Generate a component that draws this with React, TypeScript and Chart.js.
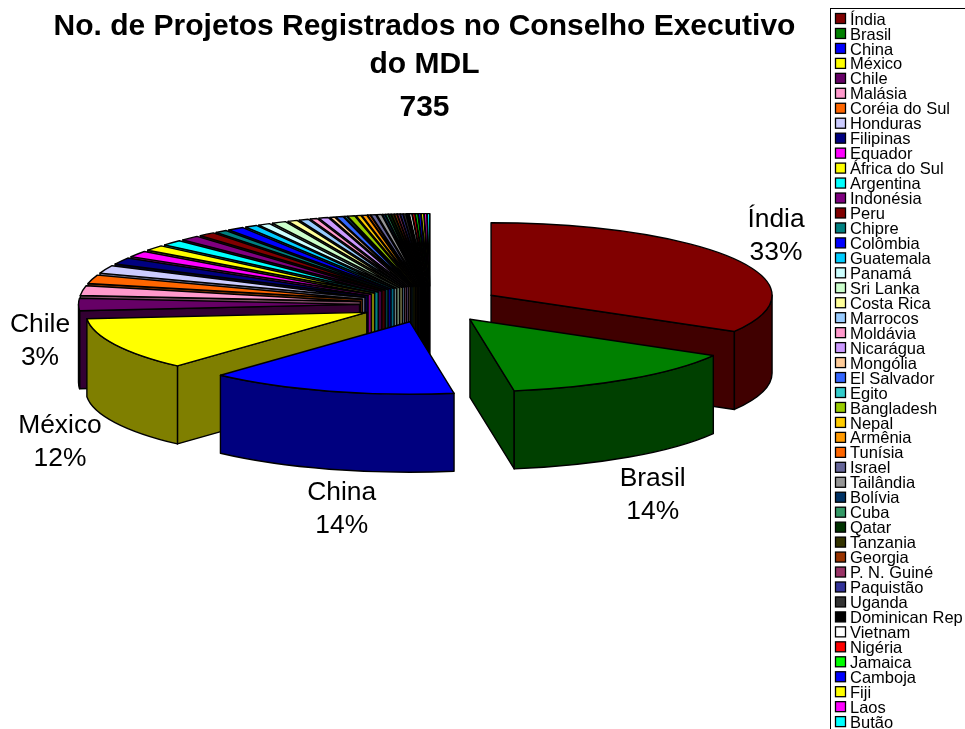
import React, { useEffect, useRef } from "react";
import { Chart, registerables } from "chart.js";

Chart.register(...registerables);

const countries = ["Índia","Brasil","China","México","Chile","Malásia","Coréia do Sul","Honduras","Filipinas","Equador","África do Sul","Argentina","Indonésia","Peru","Chipre","Colômbia","Guatemala","Panamá","Sri Lanka","Costa Rica","Marrocos","Moldávia","Nicarágua","Mongólia","El Salvador","Egito","Bangladesh","Nepal","Armênia","Tunísia","Israel","Tailândia","Bolívia","Cuba","Qatar","Tanzania","Georgia","P. N. Guiné","Paquistão","Uganda","Dominican Rep","Vietnam","Nigéria","Jamaica","Camboja","Fiji","Laos","Butão"];
const projects = [245,104,105,87,20,16,14,13,11,10,9,9,8,7,5,7,5,5,6,4,4,3,4,2,3,1,3,2,2,1,2,2,1,1,1,1,1,1,1,1,1,1,1,1,1,1,1,1];
const colors = ["#800000","#008000","#0000FF","#FFFF00","#660066","#FF99CC","#FF6600","#CCCCFF","#000080","#FF00FF","#FFFF00","#00FFFF","#800080","#800000","#008080","#0000FF","#00CCFF","#CCFFFF","#CCFFCC","#FFFF99","#99CCFF","#FF99CC","#CC99FF","#FFCC99","#3366FF","#33CCCC","#99CC00","#FFCC00","#FF9900","#FF6600","#666699","#969696","#003366","#339966","#003300","#333300","#993300","#993366","#333399","#333333","#000000","#FFFFFF","#FF0000","#00FF00","#0000FF","#FFFF00","#FF00FF","#00FFFF"];
const titleLines = ["No. de Projetos Registrados no Conselho Executivo", "do MDL"];
const subtitleText = "735";

const FONT = '"Liberation Sans", Arial, sans-serif';
const CX = 430, CY = 304.3, TILT = 0.258, DEPTH = 78;
const labelPos: Record<number, [number, number]> = { 0: [776, 227], 1: [652.7, 486], 2: [341.7, 499.5], 3: [60, 433], 4: [40, 332] };

function darken(hex: string) {
  const n = parseInt(hex.slice(1), 16);
  const r = (n >> 16) >> 1, g = ((n >> 8) & 255) >> 1, b = (n & 255) >> 1;
  return `rgb(${r},${g},${b})`;
}

const pie3d = {
  id: "pie3d",
  beforeDatasetsDraw(chart: any) {
    const ctx: CanvasRenderingContext2D = chart.ctx;
    const arcs = chart.getDatasetMeta(0).data as any[];
    const order = arcs
      .map((a, i) => ({ a, i, mid: (a.startAngle + a.endAngle) / 2 }))
      .sort((p, q) => Math.sin(p.mid) - Math.sin(q.mid));
    ctx.save();
    ctx.lineWidth = 1.4;
    ctx.strokeStyle = "#000";
    ctx.lineJoin = "round";
    for (const { a, i, mid } of order) {
      const r = a.outerRadius, ry = r * TILT;
      const off = a.options.offset;
      const x = CX + Math.cos(mid) * off;
      const y = CY + Math.sin(mid) * off * TILT;
      const s = a.startAngle, e = a.endAngle;
      const side = darken(colors[i]);
      const paint = (fill: string) => { ctx.fillStyle = fill; ctx.fill(); ctx.stroke(); };
      const wall = (ang: number) => {
        const px = x + Math.cos(ang) * r, py = y + Math.sin(ang) * ry;
        ctx.beginPath();
        ctx.moveTo(x, y);
        ctx.lineTo(px, py);
        ctx.lineTo(px, py + DEPTH);
        ctx.lineTo(x, y + DEPTH);
        ctx.closePath();
        paint(side);
      };
      // radial walls that face the viewer
      if (Math.sin(s + Math.PI / 2) < 0) wall(s);
      if (Math.sin(e + Math.PI / 2) > 0) wall(e);
      // outer wall: only the part on the front half of the ellipse
      const TAU = 2 * Math.PI;
      const base = ((s % TAU) + TAU) % TAU;
      for (const shift of [0, TAU]) {
        const f0 = Math.max(base, shift);
        const f1 = Math.min(base + (e - s), shift + Math.PI);
        if (f1 > f0) {
          ctx.beginPath();
          ctx.ellipse(x, y, r, ry, 0, f0, f1);
          ctx.ellipse(x, y + DEPTH, r, ry, 0, f1, f0, true);
          ctx.closePath();
          paint(side);
        }
      }
      ctx.beginPath();
      ctx.moveTo(x, y);
      ctx.ellipse(x, y, r, ry, 0, s, e);
      ctx.closePath();
      paint(colors[i]);
    }
    // data labels
    const total = projects.reduce((p, c) => p + c, 0);
    ctx.fillStyle = "#000";
    ctx.font = `26.4px ${FONT}`;
    ctx.textAlign = "center";
    ctx.textBaseline = "alphabetic";
    Object.keys(labelPos).forEach((k) => {
      const i = Number(k);
      const [lx, ly] = labelPos[i];
      ctx.fillText(countries[i], lx, ly);
      ctx.fillText(`${Math.round((projects[i] / total) * 100)}%`, lx, ly + 33);
    });
    ctx.restore();
    return false;
  },
  afterDraw(chart: any) {
    const ctx: CanvasRenderingContext2D = chart.ctx;
    ctx.save();
    const left = 830, top = 8, rowH = 14.96;
    ctx.strokeStyle = "#000";
    ctx.lineWidth = 1;
    ctx.strokeRect(left + 0.5, top + 0.5, 200, 800);
    ctx.font = `16.5px ${FONT}`;
    ctx.textBaseline = "alphabetic";
    ctx.textAlign = "left";
    countries.forEach((c, i) => {
      const y = top + 11 + i * rowH;
      ctx.fillStyle = colors[i];
      ctx.fillRect(left + 5.5, y - 5.5, 10, 10);
      ctx.strokeStyle = "#000";
      ctx.lineWidth = 1.3;
      ctx.strokeRect(left + 5.5, y - 5.5, 10, 10);
      ctx.fillStyle = "#000";
      ctx.fillText(c, left + 20, y + 5.6);
    });
    ctx.restore();
  },
};

export default function App() {
  const ref = useRef<HTMLCanvasElement>(null);
  useEffect(() => {
    document.body.style.margin = "0";
    const chart = new Chart(ref.current!, {
      type: "pie",
      data: {
        labels: countries,
        datasets: [{ data: projects, backgroundColor: colors, borderColor: "#000", borderWidth: 1, offset: 70.5, hoverOffset: 0 }],
      },
      options: {
        responsive: false,
        animation: false,
        radius: 281,
        layout: { padding: { right: 116 } },
        plugins: {
          legend: { display: false },
          tooltip: { enabled: false },
          title: {
            display: true,
            text: titleLines,
            color: "#000",
            font: { family: FONT, size: 30, weight: "bold", lineHeight: 1.25 },
            padding: { top: 8, bottom: 0 },
          },
          subtitle: {
            display: true,
            text: subtitleText,
            color: "#000",
            font: { family: FONT, size: 30, weight: "bold", lineHeight: 1.25 },
            padding: { top: 6, bottom: 0 },
          },
        },
      },
      plugins: [pie3d],
    } as any);
    return () => chart.destroy();
  }, []);
  return <canvas ref={ref} width={965} height={729} style={{ display: "block" }} />;
}
